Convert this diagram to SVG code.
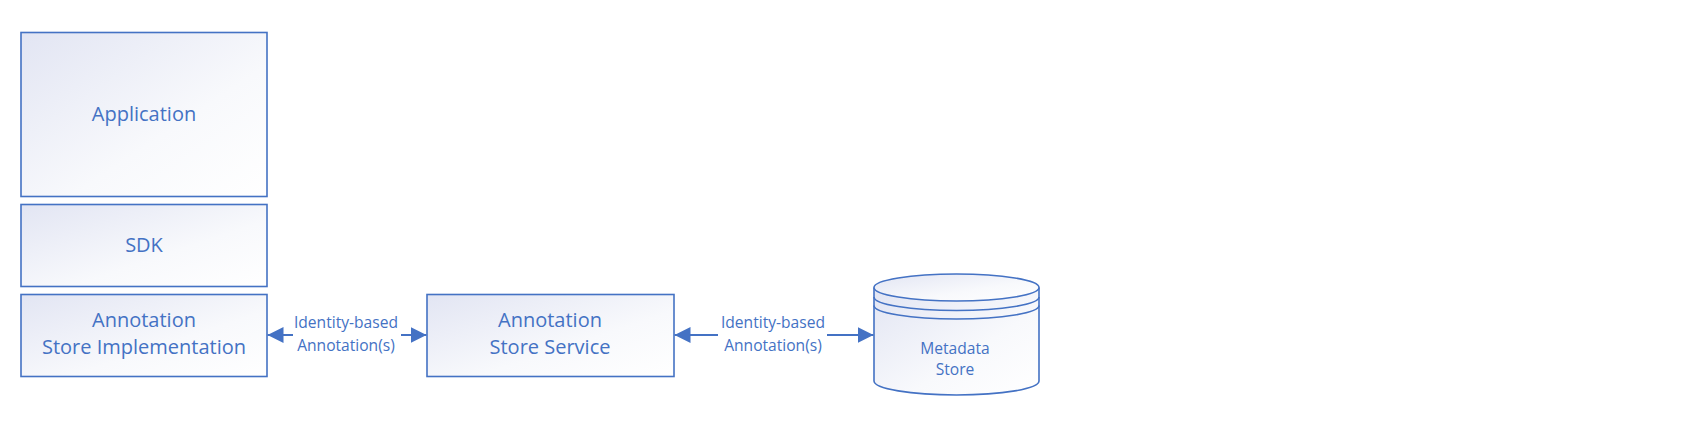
<svg xmlns="http://www.w3.org/2000/svg" width="1707" height="429" viewBox="0 0 1707 429">
<style>
.box{stroke:#4472C4;stroke-width:1.6;fill:url(#g)}
.t{font-family:"Open Sans","Noto Sans",sans-serif;fill:#4472C4;text-anchor:middle}
.big{font-size:20px}
.small{font-size:15.6px}
.conn{stroke:#4472C4;stroke-width:2;fill:none}
</style>
<defs>
<linearGradient id="g" x1="0" y1="0" x2="1" y2="1">
<stop offset="0" stop-color="#E2E5F3"/>
<stop offset="0.6" stop-color="#F8F9FC"/>
<stop offset="1" stop-color="#FFFFFF"/>
</linearGradient>
<marker id="ah" markerUnits="userSpaceOnUse" markerWidth="16" markerHeight="16" refX="16" refY="8" orient="auto">
<path d="M0,0 L16,8 L0,16 z" fill="#4472C4"/>
</marker>
</defs>
<rect width="1707" height="429" fill="#FFFFFF"/>
<g id="application">
<rect class="box" x="21" y="32.5" width="246" height="164"/>
<text class="t big" x="144" y="121">Application</text>
</g>
<g id="sdk">
<rect class="box" x="21" y="204.5" width="246" height="82"/>
<text class="t big" x="144" y="252">SDK</text>
</g>
<g id="store-impl">
<rect class="box" x="21" y="294.5" width="246" height="82"/>
<text class="t big" x="144" y="327">Annotation</text>
<text class="t big" x="144" y="354">Store Implementation</text>
</g>
<g id="store-service">
<rect class="box" x="427" y="294.5" width="247" height="82"/>
<text class="t big" x="550" y="327">Annotation</text>
<text class="t big" x="550" y="354">Store Service</text>
</g>
<g id="metadata-store">
<path class="box" d="M874,287.5 L874,381 A82.5,14 0 0 0 1039,381 L1039,287.5"/>
<ellipse class="box" cx="956.5" cy="287.5" rx="82.5" ry="13.5"/>
<path class="conn" style="stroke-width:1.6" d="M874,297 A82.5,13.5 0 0 0 1039,297"/>
<path class="conn" style="stroke-width:1.6" d="M874,305.5 A82.5,13.5 0 0 0 1039,305.5"/>
<text class="t small" x="955" y="354">Metadata</text>
<text class="t small" x="955" y="375">Store</text>
</g>
<g id="connectors">
<line class="conn" x1="293" y1="335" x2="267.5" y2="335" marker-end="url(#ah)"/>
<line class="conn" x1="401" y1="335" x2="426.5" y2="335" marker-end="url(#ah)"/>
<text class="t small" x="346" y="328.3">Identity-based</text>
<text class="t small" x="346" y="350.7">Annotation(s)</text>
<line class="conn" x1="718" y1="335" x2="674.5" y2="335" marker-end="url(#ah)"/>
<line class="conn" x1="827" y1="335" x2="873.5" y2="335" marker-end="url(#ah)"/>
<text class="t small" x="773" y="328.3">Identity-based</text>
<text class="t small" x="773" y="350.7">Annotation(s)</text>
</g>
</svg>
